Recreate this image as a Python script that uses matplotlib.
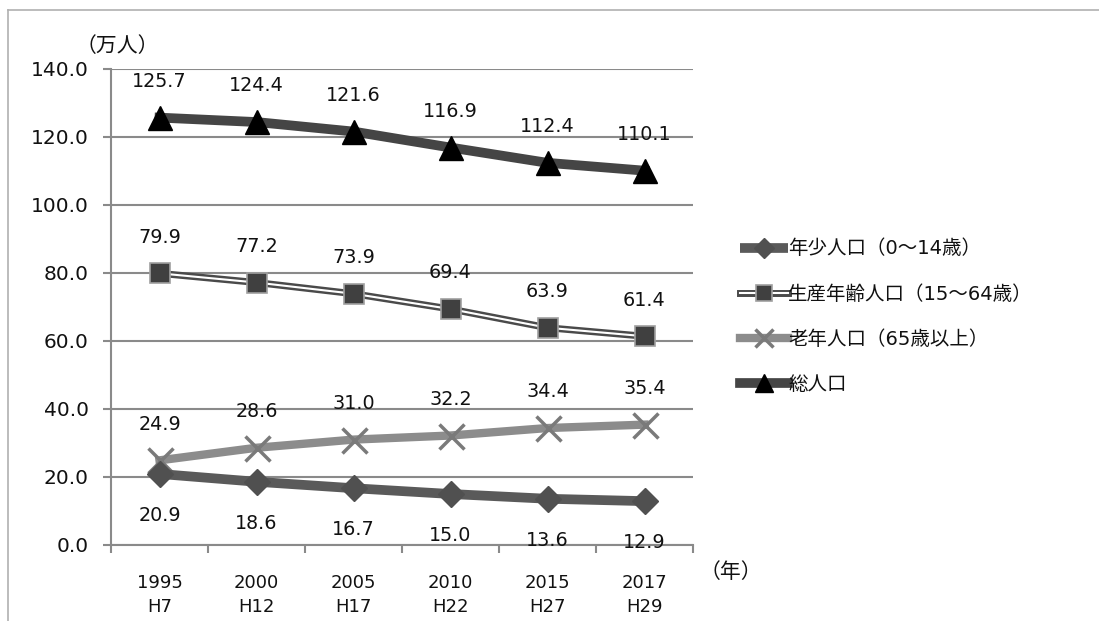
import matplotlib
matplotlib.use("Agg")
import matplotlib.pyplot as plt
from matplotlib.lines import Line2D
from matplotlib.legend_handler import HandlerTuple

plt.rcParams['font.family'] = ['DejaVu Sans', 'Noto Sans CJK JP']

years = ["1995\nH7", "2000\nH12", "2005\nH17", "2010\nH22", "2015\nH27", "2017\nH29"]
youth = [20.9, 18.6, 16.7, 15.0, 13.6, 12.9]
working = [79.9, 77.2, 73.9, 69.4, 63.9, 61.4]
elderly = [24.9, 28.6, 31.0, 32.2, 34.4, 35.4]
total = [125.7, 124.4, 121.6, 116.9, 112.4, 110.1]

names = ["年少人口（0～14歳）", "生産年齢人口（15～64歳）", "老年人口（65歳以上）", "総人口"]
yticks = [0, 20, 40, 60, 80, 100, 120, 140]

W, H = 1099, 621
fig = plt.figure(figsize=(W / 100, H / 100), dpi=100)
ax = fig.add_axes([111 / W, 1 - 545 / H, (693 - 111) / W, (545 - 69) / H])

x = list(range(len(years)))
grid_c = "#8a8a8a"
txt_c = "#111111"

# series
ln_y, = ax.plot(x, youth, color="#5a5a5a", lw=7, marker="D", ms=13,
                mfc="#505050", mec="#505050", zorder=4, solid_capstyle="butt")
ln_e, = ax.plot(x, elderly, color="#8c8c8c", lw=6, marker="x", ms=18,
                mew=2.5, mec="#7a7a7a", zorder=3)
ln_w_out, = ax.plot(x, working, color="#4a4a4a", lw=5, zorder=3)
ln_w_in, = ax.plot(x, working, color="white", lw=1.5, zorder=3.1)
ln_w_mk, = ax.plot(x, working, ls="none", marker="s", ms=15,
                   mfc="#404040", mec="#a0a0a0", mew=1.2, zorder=3.2)
ln_t, = ax.plot(x, total, color="#454545", lw=7, marker="^", ms=17,
                mfc="black", mec="black", zorder=4)

# value labels
lab_fs = 13.8
for series in (total, working, elderly):
    for xi, v in zip(x, series):
        ax.annotate(f"{v:.1f}", (xi, v), xytext=(0, 26), textcoords="offset points",
                    ha="center", va="center", fontsize=lab_fs, color=txt_c)
for xi, v in zip(x, youth):
    ax.annotate(f"{v:.1f}", (xi, v), xytext=(0, -30), textcoords="offset points",
                ha="center", va="center", fontsize=lab_fs, color=txt_c)

# axes
ax.set_xlim(-0.5, len(years) - 0.5)
ax.set_ylim(0, 140)
ax.set_yticks(yticks)
ax.set_yticklabels([f"{t:.1f}" for t in yticks], fontsize=14.5, color=txt_c)
ax.yaxis.grid(True, color=grid_c, lw=1.5)
ax.set_axisbelow(True)
ax.tick_params(axis="y", length=6, width=1.5, color=grid_c, pad=10)

ax.set_xticks(x)
ax.set_xticklabels(years, fontsize=13, color=txt_c, linespacing=1.45)
ax.tick_params(axis="x", which="major", length=0, pad=21)
ax.set_xticks([i - 0.5 for i in range(len(years) + 1)], minor=True)
ax.tick_params(axis="x", which="minor", length=6, width=1.5, color=grid_c)

for s in ("top", "right"):
    ax.spines[s].set_visible(False)
for s in ("left", "bottom"):
    ax.spines[s].set_color(grid_c)
    ax.spines[s].set_linewidth(1.5)

fig.text(76 / W, 1 - 46 / H, "（万人）", fontsize=15, color=txt_c,
         ha="left", va="center")
fig.text(700 / W, 1 - 572 / H, "（年）", fontsize=15, color=txt_c,
         ha="left", va="center")

# legend
handles = [ln_y, (ln_w_out, ln_w_in, ln_w_mk), ln_e, ln_t]
leg = fig.legend(handles, names, loc="upper left",
                 bbox_to_anchor=(722 / W, 1 - 222 / H),
                 handler_map={tuple: HandlerTuple(ndivide=1)},
                 frameon=False, fontsize=14, handlelength=2.5,
                 handletextpad=0.0, labelspacing=1.35, markerscale=0.75)
for t in leg.get_texts():
    t.set_color(txt_c)

# outer frame
fig.add_artist(Line2D([8 / W, 1], [1 - 10 / H, 1 - 10 / H], color="#b0b0b0", lw=1.2))
fig.add_artist(Line2D([8 / W, 8 / W], [0, 1 - 10 / H], color="#b0b0b0", lw=1.2))

fig.savefig("out.png", dpi=100)
